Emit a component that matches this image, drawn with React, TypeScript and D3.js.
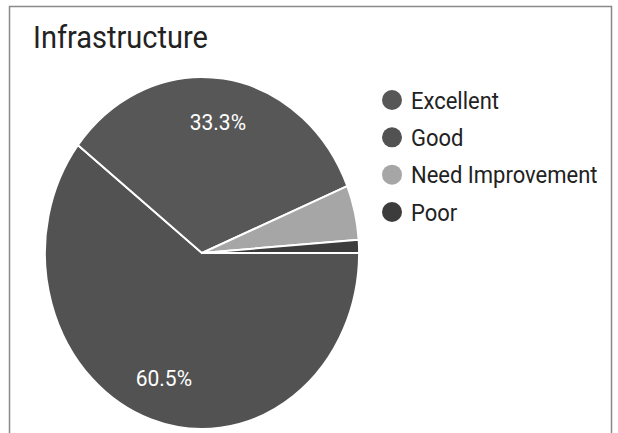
import React from 'react';
import * as d3 from 'd3';

// slice data, in drawing order (clockwise from 3 o'clock)
const sliceNames = ["Good", "Excellent", "Need Improvement", "Poor"];
const sliceValues = [60.5, 33.3, 5.0, 1.2];
const sliceLabels = ["60.5%", "33.3%", "", ""];

// legend order
const legendNames = ["Excellent", "Good", "Need Improvement", "Poor"];

const colorOf: Record<string, string> = {
  "Excellent": "#575757",
  "Good": "#525252",
  "Need Improvement": "#a6a6a6",
  "Poor": "#3c3c3c",
};

const W = 618;
const H = 433;

const App = () => {
  const cx = 202;
  const cy = 253;
  const R = 157;
  const squash = 176 / 157; // the scanned picture is stretched vertically
  const textStretch = 1.08;

  const data = sliceNames.map((name, i) => ({ name, value: sliceValues[i], label: sliceLabels[i] }));

  const pie = d3.pie<{ name: string; value: number; label: string }>()
    .sort(null)
    .value(d => d.value)
    .startAngle(Math.PI / 2)
    .endAngle(Math.PI / 2 + 2 * Math.PI);

  const arcs = pie(data);
  const arc = d3.arc<any>().innerRadius(0).outerRadius(R);
  const labelArc = d3.arc<any>().innerRadius(R * 0.75).outerRadius(R * 0.75);

  const legendY = d3.scalePoint<string>()
    .domain(legendNames)
    .range([100, 212]);

  return (
    <svg width={W} height={H} style={{ position: 'absolute', left: 0, top: 0 }} fontFamily="Roboto, Arial, sans-serif">
      <rect x={0} y={0} width={W} height={H} fill="#fff" />
      <path d={`M9.5,${H} V6.5 H611.5 V${H}`} fill="none" stroke="#8a8a8a" strokeWidth={1.5} />

      <g transform={`translate(33,48) scale(1,${textStretch})`}>
        <text x={0} y={0} fontSize={29} fill="#222">Infrastructure</text>
      </g>

      <g transform={`translate(${cx},${cy}) scale(1,${squash})`}>
        {arcs.map(a => (
          <path key={a.data.name} d={arc(a) || ''} fill={colorOf[a.data.name]} stroke="#fff" strokeWidth={1.8} />
        ))}
      </g>
      {arcs.filter(a => a.data.label).map(a => {
        const [lx, ly] = labelArc.centroid(a);
        return (
          <g key={a.data.name} transform={`translate(${cx + lx},${cy + ly * squash}) scale(1,${textStretch})`}>
            <text x={0} y={0} dy="0.36em" textAnchor="middle" fontSize={21} fill="#fff">
              {a.data.label}
            </text>
          </g>
        );
      })}

      {legendNames.map(name => (
        <g key={name} transform={`translate(0,${legendY(name)})`}>
          <circle cx={392} cy={0} r={10} fill={colorOf[name]} />
          <g transform={`translate(411,0) scale(1,${textStretch})`}>
            <text x={0} y={0} dy="0.36em" fontSize={22} fill="#222">{name}</text>
          </g>
        </g>
      ))}
    </svg>
  );
};

export default App;
